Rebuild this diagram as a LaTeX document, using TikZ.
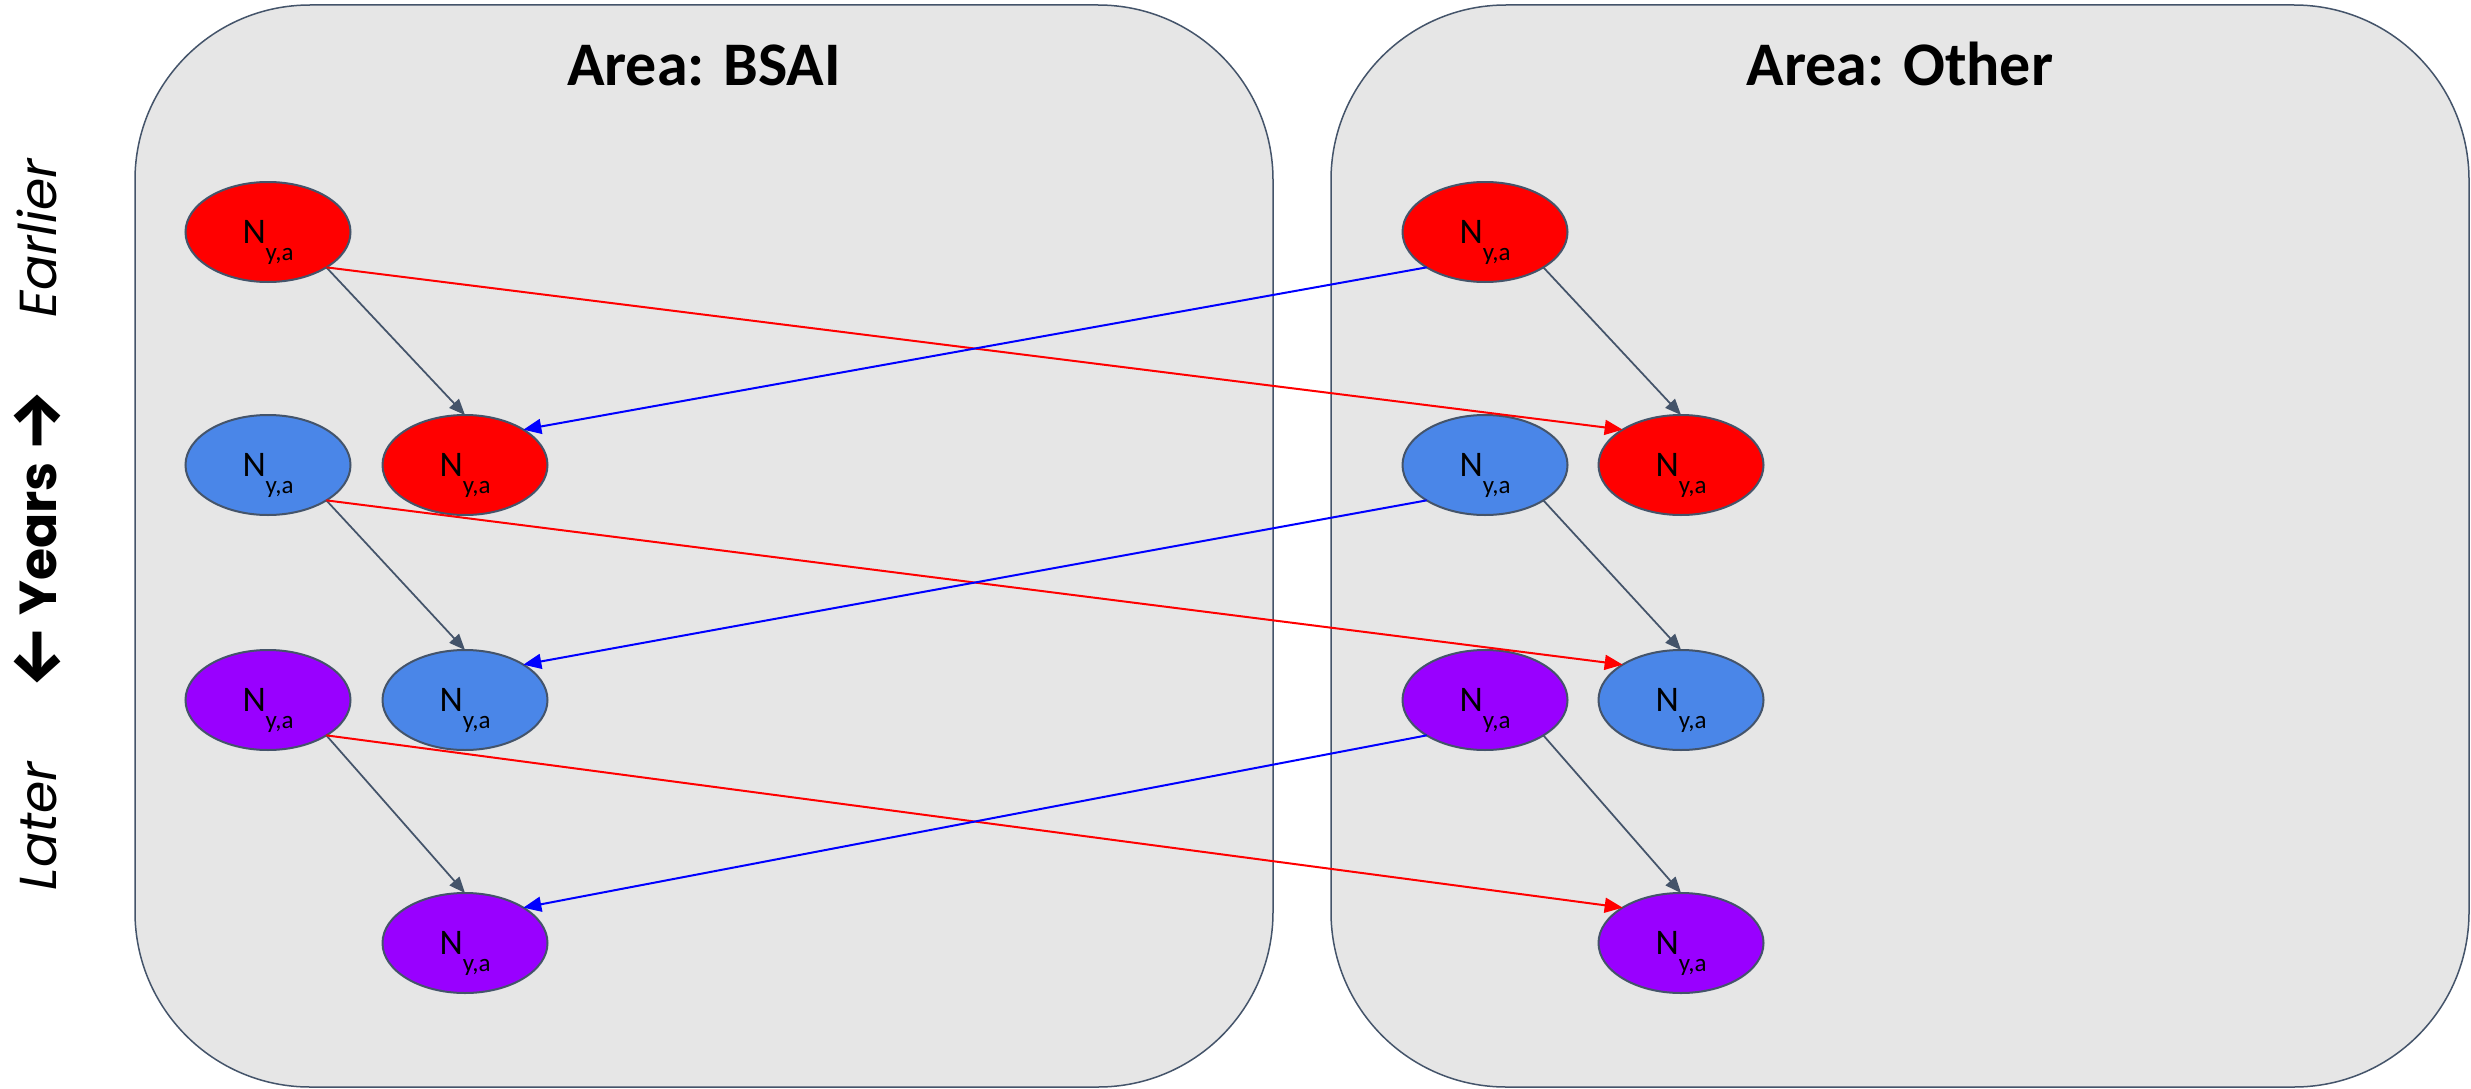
\documentclass[tikz,border=0pt]{standalone}
\usepackage{fontspec}
\setmainfont{Carlito}
\newfontfamily\gothic{Poppins}
\newfontfamily\arrowfont{Fira Sans}
\usetikzlibrary{shapes.geometric,arrows.meta}
\definecolor{slate}{HTML}{44546A}
\definecolor{boxfill}{HTML}{E6E6E6}
\definecolor{nred}{HTML}{FF0000}
\definecolor{nblue}{HTML}{4A86E8}
\definecolor{npurple}{HTML}{9900FF}
\definecolor{ablue}{HTML}{0000FF}
\newcommand{\Nya}{N\raisebox{-17pt}{\fontsize{25}{25}\selectfont y,a}}
\newcommand{\bigarrow}[1]{\raisebox{-4pt}{\arrowfont\bfseries\fontsize{70}{70}\selectfont #1}}
\begin{document}
\begin{tikzpicture}[x=1pt,y=-1pt,
  areabox/.style={draw=slate,line width=1.5pt,fill=boxfill,rounded corners=175pt,
    minimum width=1138pt,minimum height=1082pt,inner sep=0pt,outer sep=0pt},
  areatitle/.style={anchor=base,inner sep=0pt,font=\bfseries\fontsize{62}{74}\selectfont},
  pop/.style={ellipse,draw=slate,line width=2pt,minimum width=165pt,minimum height=100pt,
    inner sep=0pt,outer sep=0pt,text height=23pt,text depth=0pt,
    font=\fontsize{36}{40}\selectfont},
  popred/.style={pop,fill=nred},
  popblue/.style={pop,fill=nblue},
  poppurple/.style={pop,fill=npurple},
  garrow/.style={draw=slate,line width=1.75pt,-{Triangle[length=16pt,width=13pt]}},
  rarrow/.style={draw=nred,line width=2pt,-{Triangle[length=18pt,width=15pt]}},
  barrow/.style={draw=ablue,line width=2pt,-{Triangle[length=18pt,width=15pt]}},
  sidelabel/.style={rotate=90,anchor=base,inner sep=0pt,font=\gothic\fontsize{52}{60}\selectfont}
]
\fill[white] (0,0) rectangle (2471,1089);
\useasboundingbox (0,0) rectangle (2471,1089);

% area boxes
\node[areabox] (bsai) at (704,546) {};
\node[areabox] (other) at (1900,546) {};
\node[areatitle] (tbsai) at (704,86) {Area: BSAI};
\node[areatitle] (tother) at (1900,86) {Area: Other};

% side labels
\node[sidelabel] (earlier) at (56,238) {\itshape Earlier};
\node[sidelabel] (years) at (56,539) {\bigarrow{←}\hspace{10pt}{\bfseries Years}\hspace{10pt}\bigarrow{→}};
\node[sidelabel] (later) at (56,826) {\itshape Later};

% BSAI nodes
\node[popred]    (L1a) at (268,232) {\Nya};
\node[popblue]   (L2a) at (268,465) {\Nya};
\node[poppurple] (L3a) at (268,700) {\Nya};
\node[popred]    (L2b) at (465,465) {\Nya};
\node[popblue]   (L3b) at (465,700) {\Nya};
\node[poppurple] (L4b) at (465,943) {\Nya};

% Other nodes
\node[popred]    (R1a) at (1485,232) {\Nya};
\node[popblue]   (R2a) at (1485,465) {\Nya};
\node[poppurple] (R3a) at (1485,700) {\Nya};
\node[popred]    (R2b) at (1681,465) {\Nya};
\node[popblue]   (R3b) at (1681,700) {\Nya};
\node[poppurple] (R4b) at (1681,943) {\Nya};

% within-area ageing
\draw[garrow] (L1a.south east) -- (L2b.north);
\draw[garrow] (L2a.south east) -- (L3b.north);
\draw[garrow] (L3a.south east) -- (L4b.north);
\draw[garrow] (R1a.south east) -- (R2b.north);
\draw[garrow] (R2a.south east) -- (R3b.north);
\draw[garrow] (R3a.south east) -- (R4b.north);

% movement BSAI -> Other
\draw[rarrow] (L1a.south east) -- (R2b.north west);
\draw[rarrow] (L2a.south east) -- (R3b.north west);
\draw[rarrow] (L3a.south east) -- (R4b.north west);

% movement Other -> BSAI
\draw[barrow] (R1a.south west) -- (L2b.north east);
\draw[barrow] (R2a.south west) -- (L3b.north east);
\draw[barrow] (R3a.south west) -- (L4b.north east);
\end{tikzpicture}
\end{document}
